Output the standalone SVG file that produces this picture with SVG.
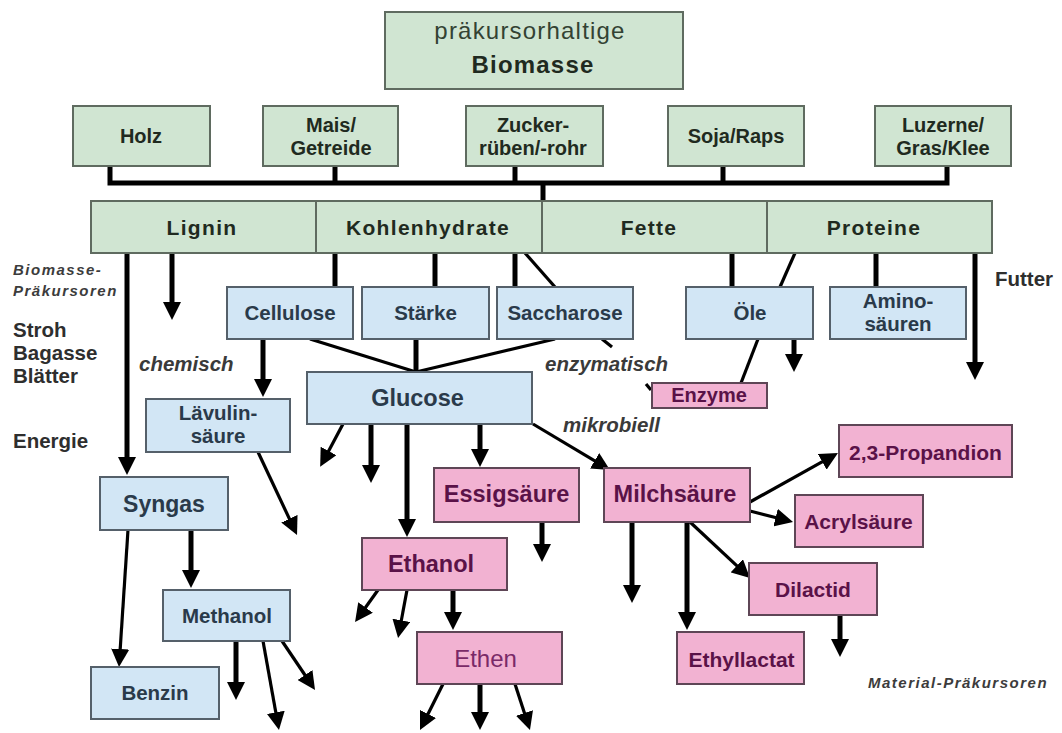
<svg xmlns="http://www.w3.org/2000/svg" width="1062" height="733" viewBox="0 0 1062 733">
  <defs>
    <style>
      .g rect, rect.g { fill: #d0e5d2; stroke: #5f6b60; stroke-width: 2; }
      .b rect { fill: #d2e6f5; stroke: #55606a; stroke-width: 2; }
      .p rect { fill: #f2b2d2; stroke: #5e4656; stroke-width: 2; }
      text { font-family: "Liberation Sans", Arial, sans-serif; text-anchor: middle; }
      .g text { fill: #1f2a20; font-weight: bold; font-size: 20px; }
      .b text { fill: #2a3a4a; font-weight: bold; font-size: 20.5px; }
      .p text { fill: #5a1248; font-weight: bold; font-size: 21px; }
      .lab { fill: #2e2e2e; font-weight: bold; font-size: 20.5px; text-anchor: start; }
      .it { fill: #3a3a3a; font-style: italic; font-weight: bold; font-size: 20.5px; text-anchor: start; }
      .sm { fill: #3c3c3c; font-style: italic; font-weight: bold; font-size: 15px; letter-spacing: 1.5px; text-anchor: start; }
      .thick { stroke: #000; stroke-width: 5; fill: none; }
      .thin { stroke: #000; stroke-width: 3.2; fill: none; }
      .arr { marker-end: url(#head); }
    </style>
    <marker id="head" viewBox="0 0 18 18" refX="9" refY="9" markerWidth="18" markerHeight="18" markerUnits="userSpaceOnUse" orient="auto">
      <path d="M0,0 L18,9 L0,18 z" fill="#000"/>
    </marker>
  </defs>
  <rect width="1062" height="733" fill="#fff"/>

  <!-- connectors -->
  <g id="connectors">
    <!-- collecting bus from the crops into the component bar -->
    <path class="thick" d="M110,166 V183 H947 V166"/>
    <path class="thick" d="M335,166 V183"/>
    <path class="thick" d="M515,166 V183"/>
    <path class="thick" d="M723,166 V183"/>
    <path class="thick" d="M543,183 V201"/>

    <!-- from the component bar -->
    <path class="thick arr" d="M127,253 V466"/>
    <path class="thick arr" d="M172,253 V311"/>
    <path class="thick" d="M335,253 V287"/>
    <path class="thick" d="M435,253 V287"/>
    <path class="thick" d="M515,253 V287"/>
    <path class="thin" d="M525,253 L555,287"/>
    <path class="thick" d="M732,253 V287"/>
    <path class="thin" d="M795,253 L780,287"/>
    <path class="thick" d="M876,253 V287"/>
    <path class="thick arr" d="M975,253 V371"/>

    <!-- intermediates -->
    <path class="thick arr" d="M794,339 V363"/>
    <path class="thin" d="M758,339 L741,383"/>
    <path class="thin" d="M602,339 L612,347"/>
    <path class="thin" d="M646,384 L651,390"/>
    <path class="thick arr" d="M263,339 V388"/>
    <path class="thin" d="M310,339 L416,372"/>
    <path class="thick" d="M416,339 V372"/>
    <path class="thin" d="M555,339 L416,372"/>

    <!-- Lävulinsäure -->
    <path class="thin arr" d="M258,452 L293.2,526.9"/>

    <!-- Glucose -->
    <path class="thin arr" d="M343,424 L324.4,458.9"/>
    <path class="thick arr" d="M371,424 V474"/>
    <path class="thick arr" d="M407,424 V528"/>
    <path class="thick arr" d="M480,424 V458"/>
    <path class="thin arr" d="M533,424 L602.3,465.4"/>

    <!-- Syngas / Methanol -->
    <path class="thin arr" d="M128,530 L119.6,658"/>
    <path class="thick arr" d="M191,530 V579"/>
    <path class="thick arr" d="M236,641 V691"/>
    <path class="thin arr" d="M263,641 L277.4,721.2"/>
    <path class="thin arr" d="M282,641 L310,682.5"/>

    <!-- Essigsäure / Milchsäure -->
    <path class="thick arr" d="M542,522 V553"/>
    <path class="thick arr" d="M632,522 V594"/>
    <path class="thick arr" d="M687,522 V621"/>
    <path class="thin arr" d="M690,522 L743.4,571.9"/>
    <path class="thin arr" d="M750,511 L784.3,519.8"/>
    <path class="thin arr" d="M750,502 L830.1,457.4"/>
    <path class="thick arr" d="M840,615 V648"/>

    <!-- Ethanol / Ethen -->
    <path class="thin arr" d="M378,590 L360.3,614.7"/>
    <path class="thin arr" d="M407,590 L399.7,629.2"/>
    <path class="thick arr" d="M453,590 V621"/>
    <path class="thin arr" d="M443,684 L424,722"/>
    <path class="thick arr" d="M480,684 V721"/>
    <path class="thin arr" d="M515,684 L527.2,721.5"/>
  </g>

  <!-- source biomass -->
  <g id="biomasse" class="g">
    <rect x="385" y="12" width="298" height="77"/>
    <text x="530" y="39" style="font-weight:normal;font-size:24px;letter-spacing:1.2px;fill:#334233">präkursorhaltige</text>
    <text x="533" y="73" style="font-size:24px;letter-spacing:1.2px">Biomasse</text>
  </g>

  <g id="holz" class="g"><rect x="73" y="106" width="137" height="60"/><text x="141" y="143">Holz</text></g>
  <g id="mais" class="g"><rect x="263" y="106" width="135" height="60"/><text x="331" y="132">Mais/</text><text x="331" y="155">Getreide</text></g>
  <g id="zucker" class="g"><rect x="466" y="106" width="137" height="60"/><text x="533" y="132">Zucker-</text><text x="533" y="155">rüben/-rohr</text></g>
  <g id="soja" class="g"><rect x="668" y="106" width="136" height="60"/><text x="736" y="143">Soja/Raps</text></g>
  <g id="luzerne" class="g"><rect x="875" y="106" width="136" height="60"/><text x="943" y="132">Luzerne/</text><text x="943" y="155">Gras/Klee</text></g>

  <!-- component bar -->
  <g id="lignin" class="g"><rect x="91" y="201" width="225" height="52"/><text x="202" y="235" style="font-size:21px;letter-spacing:1.3px">Lignin</text></g>
  <g id="kohlenhydrate" class="g"><rect x="316" y="201" width="226" height="52"/><text x="428" y="235" style="font-size:21px;letter-spacing:1.3px">Kohlenhydrate</text></g>
  <g id="fette" class="g"><rect x="542" y="201" width="225" height="52"/><text x="649" y="235" style="font-size:21px;letter-spacing:1.3px">Fette</text></g>
  <g id="proteine" class="g"><rect x="767" y="201" width="225" height="52"/><text x="874" y="235" style="font-size:21px;letter-spacing:1.3px">Proteine</text></g>

  <!-- side labels -->
  <g id="labels">
    <text class="sm" x="13" y="275">Biomasse-</text>
    <text class="sm" x="13" y="296">Präkursoren</text>
    <text class="lab" x="13" y="337">Stroh</text>
    <text class="lab" x="13" y="360">Bagasse</text>
    <text class="lab" x="13" y="383">Blätter</text>
    <text class="lab" x="13" y="448">Energie</text>
    <text class="lab" x="995" y="286">Futter</text>
    <text class="it" x="139" y="371">chemisch</text>
    <text class="it" x="545" y="371">enzymatisch</text>
    <text class="it" x="563" y="432">mikrobiell</text>
    <text class="sm" x="868" y="688">Material-Präkursoren</text>
  </g>

  <!-- intermediates -->
  <g id="cellulose" class="b"><rect x="227" y="287" width="126" height="52"/><text x="290" y="320">Cellulose</text></g>
  <g id="staerke" class="b"><rect x="362" y="287" width="127" height="52"/><text x="425.5" y="320">Stärke</text></g>
  <g id="saccharose" class="b"><rect x="497" y="287" width="136" height="52"/><text x="565" y="320">Saccharose</text></g>
  <g id="oele" class="b"><rect x="686" y="287" width="127" height="52"/><text x="750" y="320">Öle</text></g>
  <g id="aminosaeuren" class="b"><rect x="830" y="287" width="136" height="52"/><text x="898" y="308">Amino-</text><text x="898" y="331">säuren</text></g>
  <g id="laevulinsaeure" class="b"><rect x="146" y="399" width="144" height="53"/><text x="218" y="420">Lävulin-</text><text x="218" y="443">säure</text></g>
  <g id="glucose" class="b"><rect x="307" y="372" width="225" height="52"/><text x="417.5" y="406" style="font-size:23.5px">Glucose</text></g>
  <g id="syngas" class="b"><rect x="100" y="477" width="128" height="53"/><text x="164" y="512" style="font-size:23px">Syngas</text></g>
  <g id="methanol" class="b"><rect x="163" y="590" width="127" height="51"/><text x="227" y="623">Methanol</text></g>
  <g id="benzin" class="b"><rect x="91" y="667" width="128" height="52"/><text x="155" y="700">Benzin</text></g>

  <!-- products -->
  <g id="enzyme" class="p"><rect x="652" y="383" width="115" height="25"/><text x="709" y="402" style="font-size:20px">Enzyme</text></g>
  <g id="propandion" class="p"><rect x="839" y="425" width="173" height="52"/><text x="925.5" y="460">2,3-Propandion</text></g>
  <g id="essigsaeure" class="p"><rect x="434" y="468" width="145" height="54"/><text x="506.5" y="502" style="font-size:23.5px">Essigsäure</text></g>
  <g id="milchsaeure" class="p"><rect x="604" y="468" width="146" height="54"/><text x="675" y="502" style="font-size:23.5px">Milchsäure</text></g>
  <g id="acrylsaeure" class="p"><rect x="795" y="495" width="128" height="52"/><text x="858.5" y="529">Acrylsäure</text></g>
  <g id="ethanol" class="p"><rect x="362" y="538" width="145" height="52"/><text x="431" y="572" style="font-size:23.5px">Ethanol</text></g>
  <g id="dilactid" class="p"><rect x="749" y="563" width="128" height="52"/><text x="813" y="597">Dilactid</text></g>
  <g id="ethen" class="p"><rect x="417" y="632" width="145" height="52"/><text x="485.5" y="667" style="font-weight:normal;font-size:24px;fill:#7a2a68">Ethen</text></g>
  <g id="ethyllactat" class="p"><rect x="677" y="632" width="127" height="52"/><text x="741.5" y="667">Ethyllactat</text></g>
</svg>
